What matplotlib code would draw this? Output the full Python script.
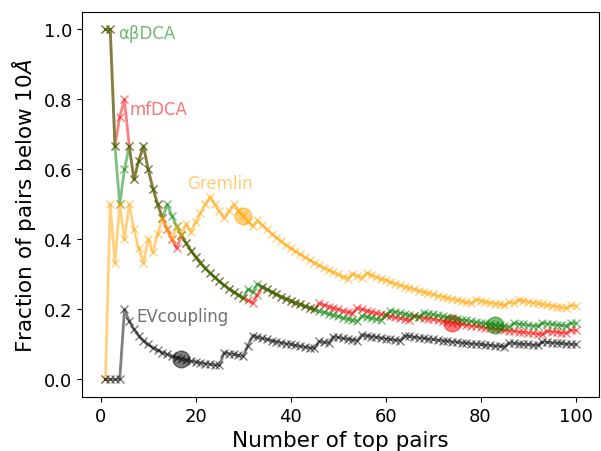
import numpy as np
import matplotlib.pyplot as plt

# number of true contacts (< 10 A) among the top-n predicted pairs, n = 1..100
n_pairs = np.arange(1, 101)

ab_dca = [1, 2, 2, 2, 3, 4, 4, 5, 6, 6,
          6, 6, 6, 7, 7, 7, 7, 7, 7, 7,
          7, 7, 7, 7, 7, 7, 7, 7, 7, 7,
          8, 8, 9, 9, 9, 9, 9, 9, 9, 9,
          9, 9, 9, 9, 9, 9, 9, 9, 9, 9,
          9, 9, 9, 9, 10, 10, 10, 10, 10, 11,
          12, 12, 12, 12, 12, 12, 12, 13, 13, 13,
          13, 13, 13, 13, 13, 13, 13, 13, 13, 13,
          13, 13, 13, 13, 13, 13, 14, 14, 14, 14,
          14, 14, 15, 15, 15, 15, 15, 15, 16, 16]

mf_dca = [1, 2, 2, 3, 4, 4, 4, 5, 6, 6,
          6, 6, 6, 6, 6, 6, 7, 7, 7, 7,
          7, 7, 7, 7, 7, 7, 7, 7, 7, 7,
          7, 7, 8, 9, 9, 9, 9, 9, 9, 9,
          9, 9, 9, 9, 9, 10, 10, 10, 10, 10,
          10, 10, 10, 11, 11, 11, 11, 11, 11, 11,
          11, 11, 11, 11, 11, 12, 12, 12, 12, 12,
          12, 12, 12, 12, 12, 12, 12, 12, 12, 12,
          12, 12, 12, 12, 12, 12, 12, 12, 12, 12,
          12, 12, 12, 13, 13, 13, 13, 13, 14, 14]

gremlin = [0, 1, 1, 2, 2, 3, 3, 3, 3, 4,
           4, 5, 6, 6, 6, 7, 7, 8, 8, 9,
           10, 11, 12, 12, 12, 12, 13, 14, 14, 14,
           14, 14, 15, 15, 15, 15, 15, 15, 15, 15,
           15, 15, 15, 15, 15, 15, 15, 15, 15, 15,
           15, 15, 16, 16, 16, 17, 17, 17, 17, 17,
           17, 17, 17, 17, 17, 17, 17, 17, 17, 17,
           17, 17, 17, 17, 17, 17, 17, 17, 18, 18,
           18, 18, 18, 18, 18, 19, 19, 20, 20, 20,
           20, 20, 20, 20, 20, 20, 20, 20, 21, 21]

ev_coupling = [0, 0, 0, 0, 1, 1, 1, 1, 1, 1,
               1, 1, 1, 1, 1, 1, 1, 1, 1, 1,
               1, 1, 1, 1, 1, 2, 2, 2, 2, 2,
               3, 4, 4, 4, 4, 4, 4, 4, 4, 4,
               4, 4, 4, 4, 4, 5, 5, 5, 6, 6,
               6, 6, 6, 6, 7, 7, 7, 7, 7, 7,
               7, 7, 7, 8, 8, 8, 8, 8, 8, 8,
               8, 8, 8, 8, 8, 8, 8, 8, 8, 8,
               8, 8, 8, 8, 8, 9, 9, 9, 9, 9,
               9, 9, 10, 10, 10, 10, 10, 10, 10, 10]

# drawn in this order so the green line sits over the red one
methods = ['mfDCA', 'αβDCA', 'Gremlin', 'EVcoupling']
counts = [mf_dca, ab_dca, gremlin, ev_coupling]
colors = ['red', 'green', 'orange', 'black']
marked_n = [74, 83, 30, 17]          # highlighted cut-off per method
label_xy = [(6.1, 0.774), (3.6, 0.99), (18.3, 0.56), (7.6, 0.18)]

fig = plt.figure(figsize=(6.01, 4.52), dpi=100)
ax = fig.add_axes([0.1364, 0.1195, 0.8603, 0.8518])

for name, c, col, m, (tx, ty) in zip(methods, counts, colors, marked_n, label_xy):
    frac = np.array(c) / n_pairs
    ax.plot(n_pairs, frac, color=col, marker='x', markersize=6,
            linewidth=2, alpha=0.5)
    ax.plot(m, frac[m - 1], 'o', color=col, markersize=12, alpha=0.5)
    ax.text(tx, ty, name, color=col, alpha=0.55, fontsize=12,
            ha='left', va='center')

ax.set_xlabel('Number of top pairs', fontsize=15.5)
ax.set_ylabel(r'Fraction of pairs below 10$\AA$', fontsize=15.5)
ax.tick_params(labelsize=13)

fig.savefig('out.png', dpi=100)
